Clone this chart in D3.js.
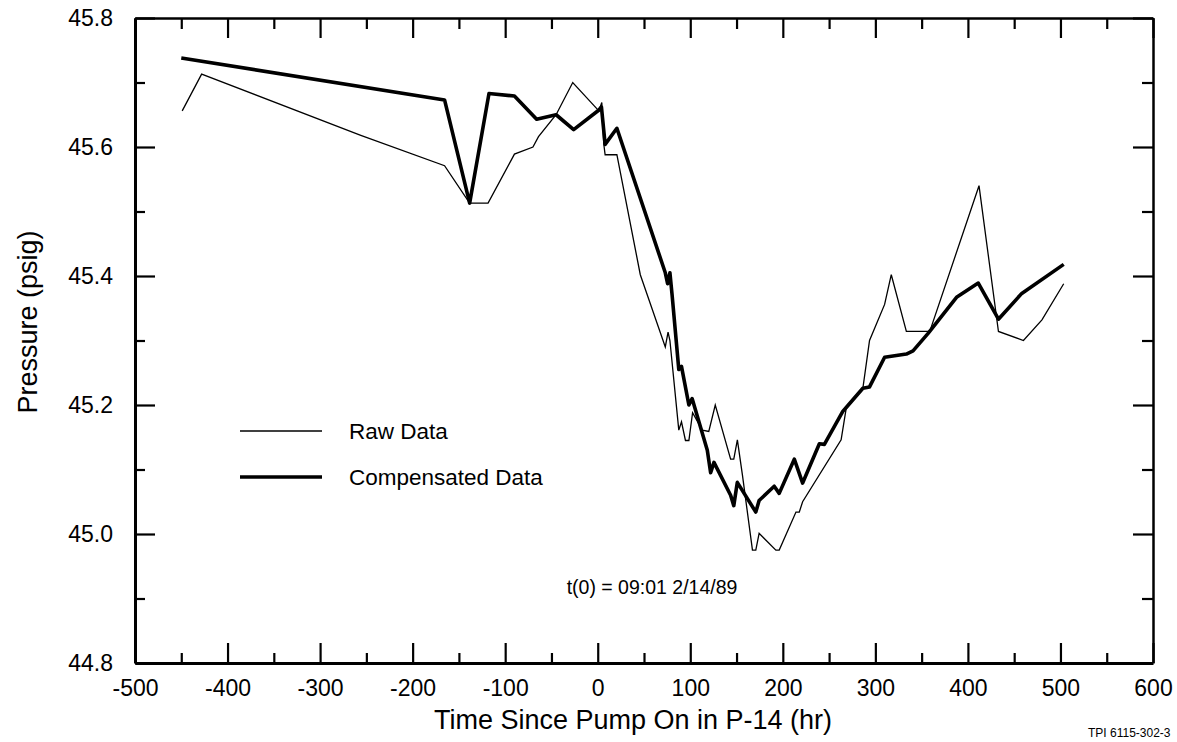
<!DOCTYPE html>
<html><head><meta charset="utf-8">
<script src="https://cdn.jsdelivr.net/npm/d3@7"></script>
<style>
body{margin:0;background:#fff}
svg{display:block}
text{font-family:"Liberation Sans",Arial,Helvetica,sans-serif;fill:#000}
</style>
</head><body>
<svg id="chart" width="1177" height="742"></svg>
<script>
// ---- data ----
const rawTime = [-449, -428, -256, -165.5, -138.4, -118.5, -90, -70, -64, -45, -27, 1.2, 4.4, 6.5, 8, 20.7, 46, 73, 76, 78, 87.6, 90.5, 94.8, 98.5, 102.5, 113, 120, 127, 143.6, 147, 150.9, 156.3, 167.2, 170.8, 174.4, 192.5, 196.1, 214.2, 217.8, 221.4, 263, 268.4, 286.5, 293.7, 310, 317.2, 333.5, 358.8, 412, 433, 460, 480, 503.5];
const rawPressure = [45.656, 45.713, 45.618, 45.571, 45.513, 45.513, 45.589, 45.600, 45.616, 45.650, 45.700, 45.656, 45.669, 45.605, 45.588, 45.588, 45.402, 45.290, 45.313, 45.300, 45.161, 45.174, 45.145, 45.145, 45.188, 45.161, 45.159, 45.200, 45.116, 45.116, 45.146, 45.092, 44.975, 44.975, 45.001, 44.975, 44.975, 45.034, 45.034, 45.050, 45.146, 45.194, 45.226, 45.300, 45.356, 45.402, 45.314, 45.314, 45.540, 45.314, 45.300, 45.332, 45.388];

const compTime = [-450, -165.5, -138.4, -117.5, -90, -66, -45, -26, 1, 4, 8, 20.7, 73, 75.5, 78, 80.4, 87.6, 90.5, 98.5, 102, 118.4, 122, 125.6, 143.6, 147, 150.8, 170.8, 174.4, 190.7, 196.1, 212.4, 221.4, 239.5, 244.9, 264.8, 272, 286.5, 293.7, 310, 333.5, 340.7, 357, 387.7, 411.2, 433, 458.2, 503.5];
const compPressure = [45.738, 45.673, 45.513, 45.683, 45.679, 45.643, 45.650, 45.627, 45.657, 45.662, 45.604, 45.629, 45.405, 45.388, 45.405, 45.370, 45.255, 45.260, 45.200, 45.210, 45.130, 45.095, 45.111, 45.060, 45.044, 45.080, 45.034, 45.052, 45.074, 45.063, 45.116, 45.079, 45.140, 45.139, 45.190, 45.202, 45.226, 45.228, 45.274, 45.279, 45.284, 45.311, 45.367, 45.389, 45.333, 45.373, 45.418];

const xTickValues = [-500, -400, -300, -200, -100, 0, 100, 200, 300, 400, 500, 600];
const xMinorTicks = [-450, -350, -250, -150, -50, 50, 150, 250, 350, 450, 550];
const yTickValues = [44.8, 45.0, 45.2, 45.4, 45.6, 45.8];
const yMinorTicks = [44.9, 45.1, 45.3, 45.5, 45.7];
const seriesNames = ["Raw Data", "Compensated Data"];

// ---- layout ----
const L = 135, R = 1153, T = 18, B = 663;
const svg = d3.select("#chart");

const x = d3.scaleLinear().domain([-500, 600]).range([L, R]);
const y = d3.scaleLinear().domain([44.8, 45.8]).range([B, T]);

function styleTicks(g) {
  g.selectAll(".tick line").attr("stroke", "#000").attr("stroke-width", 2.2);
}
function styleAxis(g, w) {
  g.select(".domain").attr("stroke", "#000").attr("stroke-width", w);
  styleTicks(g);
}

// bottom axis with labels
const gb = svg.append("g").attr("transform", `translate(0,${B})`)
  .call(d3.axisBottom(x).tickValues(xTickValues).tickSize(-20).tickSizeOuter(0).tickPadding(17).tickFormat(d => String(d)));
styleAxis(gb, 3);
gb.selectAll(".tick text").attr("font-size", 23).attr("font-family", "Liberation Sans, Arial, sans-serif");
svg.append("g").attr("transform", `translate(0,${B})`)
  .call(d3.axisBottom(x).tickValues(xMinorTicks).tickSize(-10).tickSizeOuter(0).tickFormat(""))
  .call(g => { g.select(".domain").remove(); styleTicks(g); });

// top axis
const gt = svg.append("g").attr("transform", `translate(0,${T})`)
  .call(d3.axisTop(x).tickValues(xTickValues).tickSize(-20).tickSizeOuter(0).tickFormat(""));
styleAxis(gt, 2.5);
svg.append("g").attr("transform", `translate(0,${T})`)
  .call(d3.axisTop(x).tickValues(xMinorTicks).tickSize(-11).tickSizeOuter(0).tickFormat(""))
  .call(g => { g.select(".domain").remove(); styleTicks(g); });

// left axis with labels
const gl = svg.append("g").attr("transform", `translate(${L},0)`)
  .call(d3.axisLeft(y).tickValues(yTickValues).tickSize(-20).tickSizeOuter(0).tickPadding(22).tickFormat(d3.format(".1f")));
styleAxis(gl, 3);
gl.selectAll(".tick text").attr("font-size", 23).attr("font-family", "Liberation Sans, Arial, sans-serif");
svg.append("g").attr("transform", `translate(${L},0)`)
  .call(d3.axisLeft(y).tickValues(yMinorTicks).tickSize(-10).tickSizeOuter(0).tickFormat(""))
  .call(g => { g.select(".domain").remove(); styleTicks(g); });

// right axis
const gr = svg.append("g").attr("transform", `translate(${R},0)`)
  .call(d3.axisRight(y).tickValues(yTickValues).tickSize(-20).tickSizeOuter(0).tickFormat(""));
styleAxis(gr, 2.5);
svg.append("g").attr("transform", `translate(${R},0)`)
  .call(d3.axisRight(y).tickValues(yMinorTicks).tickSize(-11).tickSizeOuter(0).tickFormat(""))
  .call(g => { g.select(".domain").remove(); styleTicks(g); });

// lines
const rawData = rawTime.map((t, i) => [t, rawPressure[i]]);
const compData = compTime.map((t, i) => [t, compPressure[i]]);
const line = d3.line().x(d => x(d[0])).y(d => y(d[1]));

svg.append("path").datum(rawData).attr("d", line)
  .attr("fill", "none").attr("stroke", "#000").attr("stroke-width", 1.3).attr("stroke-linejoin", "miter");
svg.append("path").datum(compData).attr("d", line)
  .attr("fill", "none").attr("stroke", "#000").attr("stroke-width", 3.6).attr("stroke-linejoin", "round");

// legend
const legend = svg.append("g");
const legY = [431, 477];
const legW = [1.3, 3.6];
seriesNames.forEach((n, i) => {
  legend.append("line").attr("x1", 240).attr("x2", 322).attr("y1", legY[i]).attr("y2", legY[i])
    .attr("stroke", "#000").attr("stroke-width", legW[i]);
  legend.append("text").attr("x", 349).attr("y", legY[i] + 8).attr("font-size", 22.5).text(n);
});

// annotation
svg.append("text").attr("x", 652).attr("y", 594).attr("text-anchor", "middle").attr("font-size", 19.5)
  .text("t(0) = 09:01 2/14/89");

// axis titles
svg.append("text").attr("x", 633).attr("y", 729).attr("text-anchor", "middle").attr("font-size", 27)
  .text("Time Since Pump On in P-14 (hr)");
svg.append("text").attr("transform", `translate(37,322) rotate(-90)`).attr("text-anchor", "middle").attr("font-size", 27)
  .text("Pressure (psig)");

// figure id (at the bottom edge)
svg.append("text").attr("x", 1088).attr("y", 737).attr("font-size", 12).text("TPI 6115-302-3");
</script>
</body></html>
